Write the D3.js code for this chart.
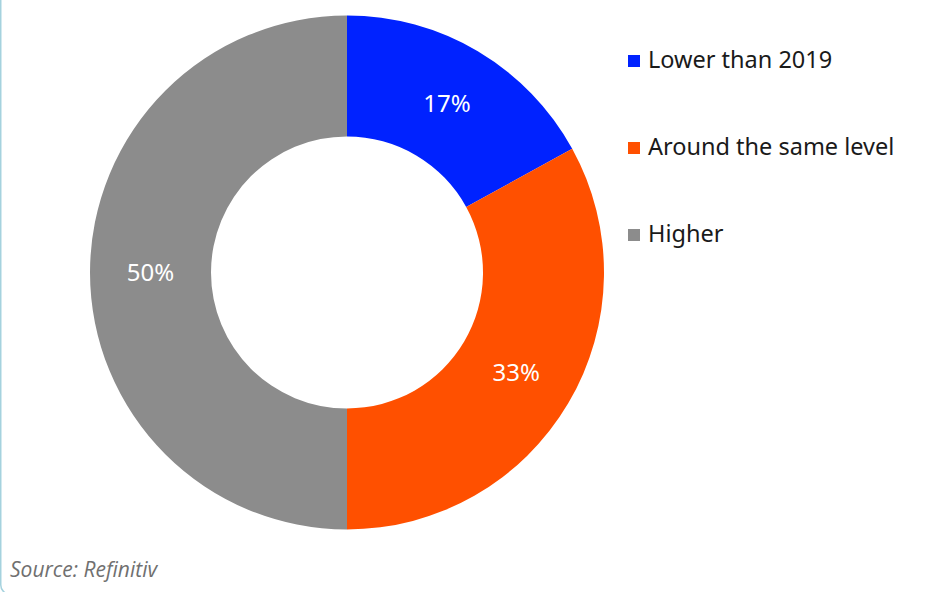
<!DOCTYPE html>
<html>
<head>
<meta charset="utf-8">
<script src="https://cdn.jsdelivr.net/npm/d3@7"></script>
<style>
  html, body { margin: 0; padding: 0; background: #fff; }
  svg { display: block; }
</style>
</head>
<body>
<svg id="chart" width="949" height="592"></svg>
<script>
// Survey answers: share of respondents (%)
const categories = ["Lower than 2019", "Around the same level", "Higher"];
const values = [17, 33, 50];
const colors = ["#0022ff", "#ff5000", "#8c8c8c"];
const sourceNote = "Source: Refinitiv";

const svg = d3.select("#chart");
const width = 949, height = 592;

// Frame (left and bottom edges visible)
svg.append("rect")
  .attr("x", 0.75).attr("y", -20)
  .attr("width", width + 20).attr("height", height + 10 + 20 - 8)
  .attr("rx", 9)
  .attr("fill", "none")
  .attr("stroke", "#a5d2de")
  .attr("stroke-width", 1.5);

const cx = 347, cy = 272.5;
const outerR = 257, innerR = 136;

const pie = d3.pie().sort(null).value(d => d.value);
const arc = d3.arc().innerRadius(innerR).outerRadius(outerR);
const data = categories.map((c, i) => ({ name: c, value: values[i], color: colors[i] }));

const g = svg.append("g").attr("transform", `translate(${cx},${cy})`);
const arcs = pie(data);

g.selectAll("path.slice")
  .data(arcs)
  .join("path")
  .attr("class", "slice")
  .attr("d", arc)
  .attr("fill", d => d.data.color);

g.selectAll("text.val")
  .data(arcs)
  .join("text")
  .attr("class", "val")
  .attr("transform", d => `translate(${arc.centroid(d)})`)
  .attr("text-anchor", "middle")
  .attr("dy", "0.36em")
  .attr("fill", "#fff")
  .style("font-family", "'Noto Sans', sans-serif")
  .style("font-size", "24px")
  .text(d => d.data.value + "%");

// Legend
const legend = svg.append("g").attr("transform", "translate(628,60)");
const item = legend.selectAll("g")
  .data(data)
  .join("g")
  .attr("transform", (d, i) => `translate(0,${i * 87})`);
item.append("rect")
  .attr("x", 0).attr("y", -5)
  .attr("width", 12).attr("height", 12)
  .attr("fill", d => d.color);
item.append("text")
  .attr("x", 20).attr("y", 0)
  .attr("dy", "0.36em")
  .attr("fill", "#1a1a1a")
  .style("font-family", "'Noto Sans', sans-serif")
  .style("font-size", "23.5px")
  .text(d => d.name);

svg.append("text")
  .attr("x", 10).attr("y", 577)
  .attr("fill", "#707070")
  .style("font-family", "'Open Sans', sans-serif")
  .style("font-style", "italic")
  .style("font-size", "21px")
  .text(sourceNote);
</script>
</body>
</html>
